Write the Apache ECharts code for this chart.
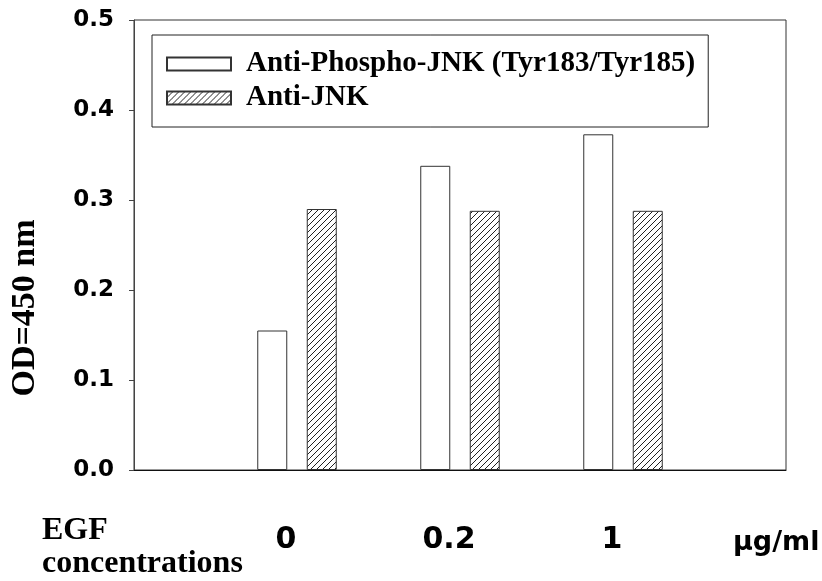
<!DOCTYPE html>
<html>
<head>
<meta charset="utf-8">
<script src="https://cdn.jsdelivr.net/npm/echarts@6/dist/echarts.min.js"></script>
<style>
html,body{margin:0;padding:0;background:#fff;}
#chart{width:822px;height:581px;}
</style>
</head>
<body>
<div id="chart"></div>
<script>
// ---- data ----
var categories = ['', '0', '0.2', '1', ''];
var phosphoJNK = [null, 0.155, 0.338, 0.373, null];
var totalJNK = [null, 0.290, 0.288, 0.288, null];
var seriesNames = ['Anti-Phospho-JNK (Tyr183/Tyr185)', 'Anti-JNK'];
var yTicks = [0, 0.1, 0.2, 0.3, 0.4, 0.5];
var yTitle = 'OD=450 nm';
var xTitle = 'EGF\nconcentrations';
var xUnit = '\u03bcg/ml';

// hatch pattern
var pc = document.createElement('canvas');
pc.width = 6; pc.height = 6;
var g = pc.getContext('2d');
g.fillStyle = '#fff'; g.fillRect(0, 0, 6, 6);
g.strokeStyle = '#222'; g.lineWidth = 1;
g.beginPath();
g.moveTo(0, 6); g.lineTo(6, 0);
g.moveTo(-1, 1); g.lineTo(1, -1);
g.moveTo(5, 7); g.lineTo(7, 5);
g.stroke();
var hatch = { image: pc, repeat: 'repeat' };

var sans = '"DejaVu Sans", Arial, sans-serif';
var serif = '"Liberation Serif", "Times New Roman", serif';

var chart = echarts.init(document.getElementById('chart'), null, { renderer: 'canvas' });
chart.setOption({
  animation: false,
  backgroundColor: '#fff',
  grid: { left: 134, right: 36, top: 20, bottom: 111, show: true, borderColor: '#333', borderWidth: 1, containLabel: false },
  legend: {
    orient: 'vertical', left: 152, top: 35,
    padding: [14, 13, 14, 14],
    borderColor: '#222', borderWidth: 1,
    itemWidth: 64, itemHeight: 13, itemGap: 4,
    icon: 'rect',
    textStyle: { fontFamily: serif, fontWeight: 'bold', fontSize: 29, color: '#000', lineHeight: 30, padding: [0, 0, 0, 10] },
    data: seriesNames
  },
  title: [
    { text: xTitle, left: 42, top: 514, padding: 0,
      textStyle: { fontFamily: serif, fontWeight: 'bold', fontSize: 32, lineHeight: 33, color: '#000' } },
    { text: xUnit, left: 733, top: 529, padding: 0,
      textStyle: { fontFamily: sans, fontWeight: 'bold', fontSize: 27, color: '#000' } }
  ],
  graphic: [
    { type: 'text', x: 25, y: 308, rotation: Math.PI / 2,
      style: { text: yTitle, font: 'bold 34px ' + serif, fill: '#000', align: 'center', verticalAlign: 'middle' } }
  ],
  xAxis: {
    type: 'category', data: categories, boundaryGap: false,
    axisLine: { lineStyle: { color: '#111', width: 1 } },
    axisTick: { show: false },
    splitLine: { show: false },
    axisLabel: { margin: 55, fontFamily: sans, fontWeight: 'bold', fontSize: 30, color: '#000', padding: [0, 22, 0, 0], interval: 0 }
  },
  yAxis: {
    type: 'value', min: 0, max: 0.5, interval: 0.1,
    axisLine: { show: true, lineStyle: { color: '#444', width: 1 } },
    axisTick: { show: true, length: 5, lineStyle: { color: '#444' } },
    splitLine: { show: false },
    axisLabel: { margin: 20, fontFamily: sans, fontWeight: 'bold', fontSize: 23, color: '#000',
      formatter: function (v) { return v.toFixed(1); } }
  },
  series: [
    { name: seriesNames[0], type: 'bar', data: phosphoJNK, barWidth: 30, barGap: '65%',
      itemStyle: { color: '#fff', borderColor: '#333', borderWidth: 1 } },
    { name: seriesNames[1], type: 'bar', data: totalJNK, barWidth: 30,
      itemStyle: { color: hatch, borderColor: '#333', borderWidth: 1 } }
  ]
});
</script>
</body>
</html>
